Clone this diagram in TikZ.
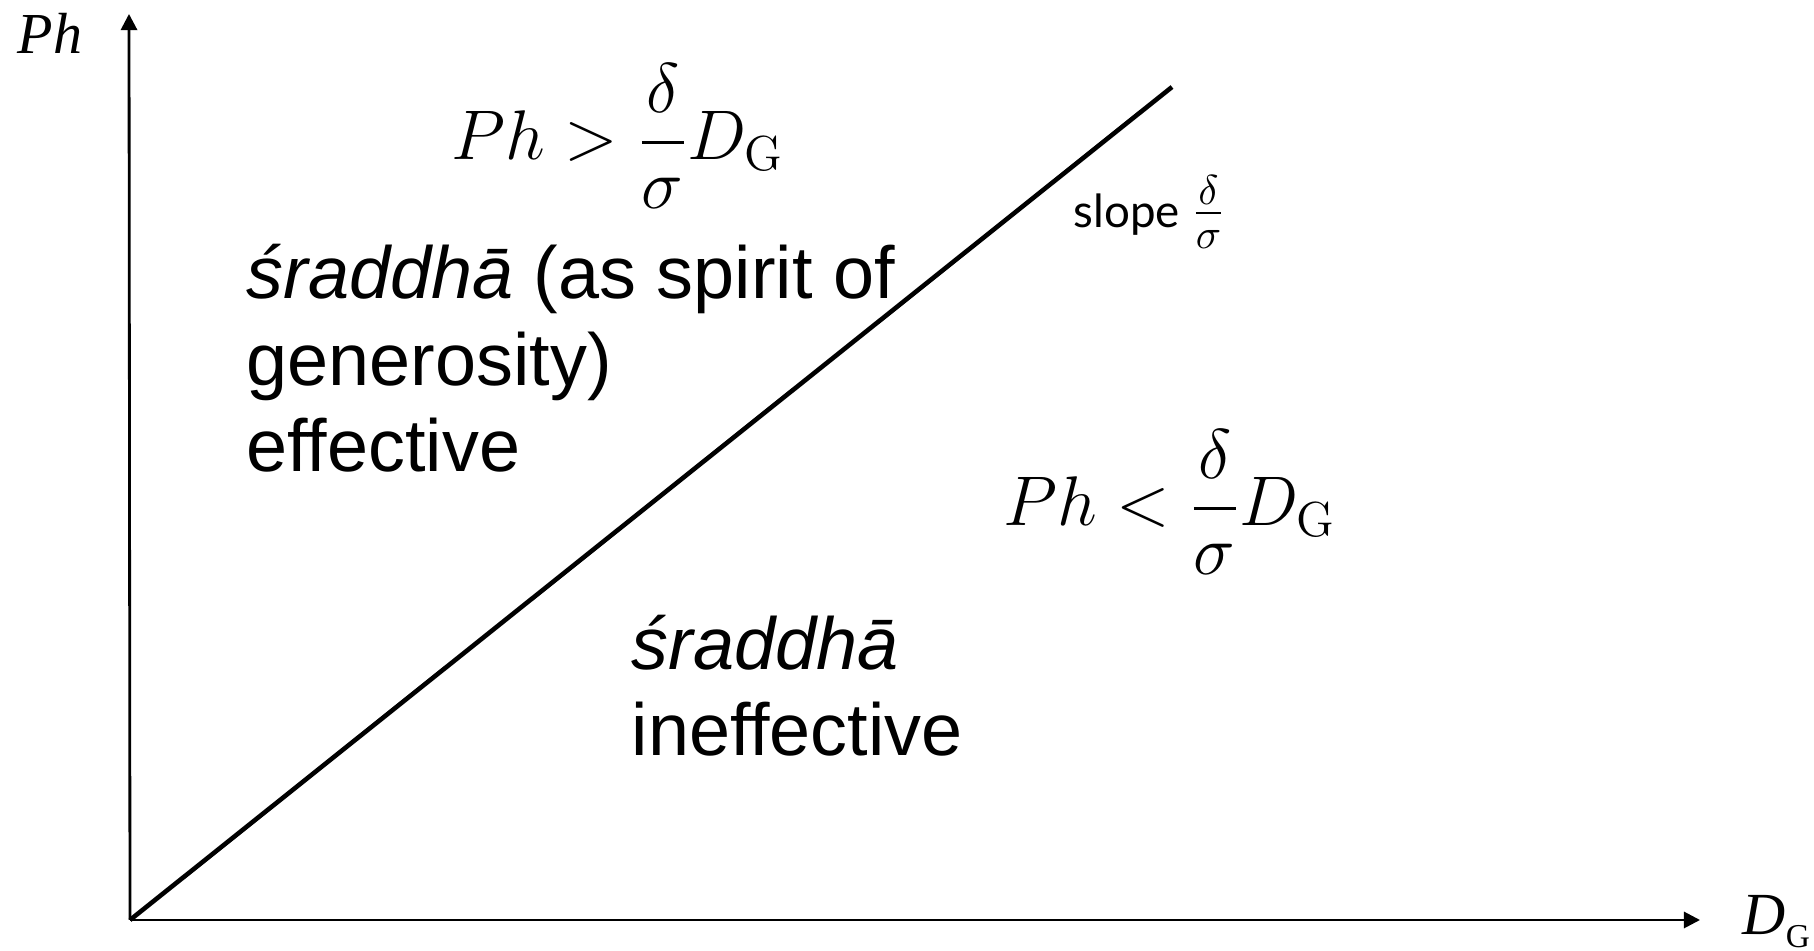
\RequirePackage{fix-cm}
\documentclass[tikz,border=0pt]{standalone}
\usepackage{amsmath}
\usepackage[no-math]{fontspec}
\setmainfont{Liberation Sans}
\newfontfamily\timesfont{Liberation Serif}
\newfontfamily\slopefont{Lato}
\usetikzlibrary{arrows.meta}

\begin{document}
\begin{tikzpicture}[>={Triangle[length=4.6pt,width=4.6pt]},
  axis/.style={->,line width=0.8pt},
  region/.style={align=left,inner sep=0pt,font=\fontsize{21}{24.7}\selectfont},
  cond/.style={inner sep=0pt,font=\fontsize{20}{24}\selectfont}]
\useasboundingbox (0,0) rectangle (18.14,9.51);
\coordinate (O) at (1.30,0.31);
\coordinate (ytip) at (1.29,9.37);
\coordinate (xtip) at (17.00,0.31);
\coordinate (lineend) at (11.72,8.64);
\draw[axis] (O) -- (ytip);
\draw[axis] (O) -- (xtip);
\draw[line width=1.3pt] (O) -- (lineend);
% axis labels
\node[anchor=base west,inner sep=0pt,font=\fontsize{16.5}{18}\selectfont\timesfont\itshape] (ylab) at (0.17,8.97) {Ph};
\node[anchor=base west,inner sep=0pt,font=\fontsize{17}{19}\selectfont\timesfont] (xlab) at (17.42,0.16)
      {\textit{D}\raisebox{-3.7pt}{\fontsize{9.5}{10}\selectfont G}};
% the two regions (base anchor sits on the last line)
\node[cond,anchor=base] (condup) at (6.18,7.91) {$\displaystyle Ph>\frac{\delta}{\sigma}D_{\mathrm{G}}$};
\node[cond,anchor=base] (conddown) at (11.70,4.25) {$\displaystyle Ph<\frac{\delta}{\sigma}D_{\mathrm{G}}$};
\node[anchor=base west,inner sep=0pt,font=\fontsize{13}{15}\selectfont\slopefont] (slope) at (10.73,7.23)
      {slope {\fontsize{17}{19}\selectfont$\frac{\delta}{\sigma}$}};
\node[region,anchor=base west] (eff) at (2.46,4.79) {\textit{śraddhā} (as spirit of\\generosity)\\effective};
\node[region,anchor=base west] (ineff) at (6.31,1.95) {\textit{śraddhā}\\ineffective};
\end{tikzpicture}
\end{document}
